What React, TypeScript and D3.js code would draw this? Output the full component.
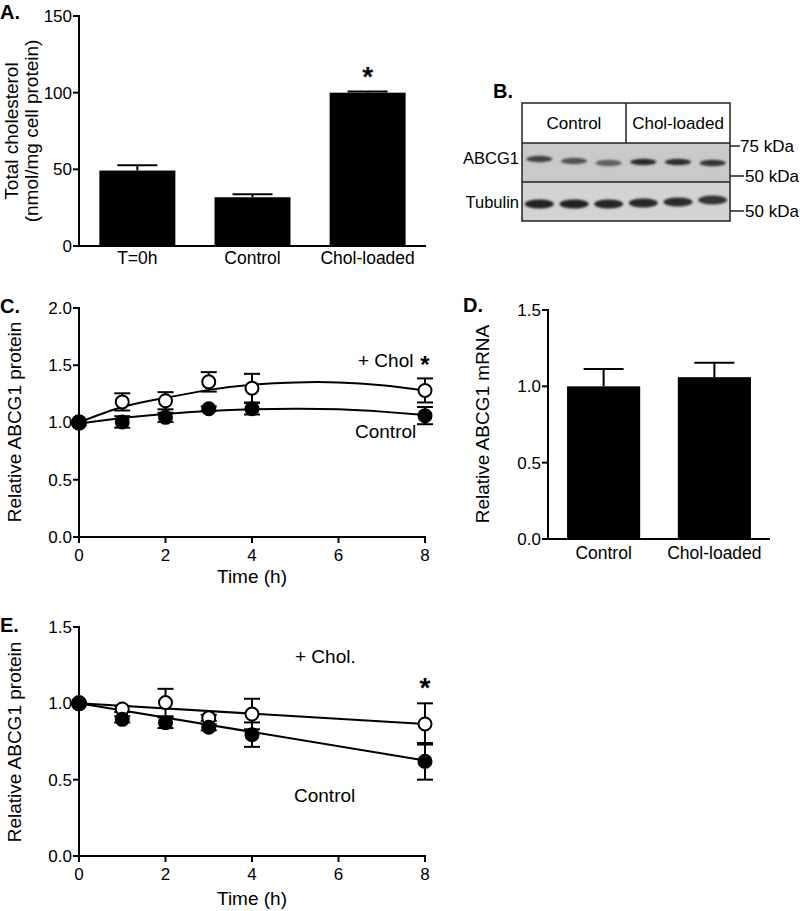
import React from "react";
import * as d3 from "d3";

const W = 800;
const H = 911;
const FONT = "'Liberation Sans', Arial, Helvetica, sans-serif";

// ---------- Panel A: total cholesterol ----------
const catsA = ["T=0h", "Control", "Chol-loaded"];
const valsA = [49.2, 31.8, 100];
const errA = [3.4, 2.0, 0.7];
const ticksA = [0, 50, 100, 150];

// ---------- Panel B: western blot ----------
const groupsB = ["Control", "Chol-loaded"];
const lanesB = ["C1", "C2", "C3", "L1", "L2", "L3"];
const abcg1Intensity = [0.78, 0.68, 0.6, 0.92, 0.9, 0.86];
const tubulinIntensity = [0.97, 0.97, 0.96, 0.94, 0.92, 0.86];
const rowsB = ["ABCG1", "Tubulin"];
const markersB = ["75 kDa", "50 kDa", "50 kDa"];

// ---------- Panel C: ABCG1 protein time course ----------
const timesC = [0, 1, 2, 3, 4, 8];
const cholC = [1.0, 1.18, 1.19, 1.355, 1.3, 1.28];
const cholErrC = [0, 0.075, 0.075, 0.085, 0.125, 0.105];
const ctrlC = [1.0, 1.005, 1.045, 1.12, 1.12, 1.06];
const ctrlErrC = [0, 0.05, 0.04, 0.02, 0.05, 0.075];
const fitTimesC = [0, 1, 2, 3, 4, 5, 6, 7, 8];
const cholFitC = [1.0, 1.135, 1.215, 1.285, 1.33, 1.35, 1.35, 1.325, 1.28];
const ctrlFitC = [0.99, 1.04, 1.075, 1.1, 1.115, 1.12, 1.115, 1.095, 1.065];
const ticksC = [0, 0.5, 1.0, 1.5, 2.0];
const xTicksTime = [0, 2, 4, 6, 8];

// ---------- Panel D: ABCG1 mRNA ----------
const catsD = ["Control", "Chol-loaded"];
const valsD = [1.0, 1.06];
const errD = [0.113, 0.095];
const ticksD = [0, 0.5, 1.0, 1.5];

// ---------- Panel E: ABCG1 protein decay ----------
const timesE = [0, 1, 2, 3, 4, 8];
const cholE = [1.0, 0.963, 1.005, 0.905, 0.93, 0.865];
const cholErrE = [0, 0.02, 0.09, 0.02, 0.1, 0.135];
const ctrlE = [1.0, 0.895, 0.873, 0.843, 0.795, 0.62];
const ctrlErrE = [0, 0.02, 0.035, 0.02, 0.08, 0.12];
const fitTimesE = [0, 8];
const cholFitE = [1.0, 0.865];
const ctrlFitE = [1.0, 0.625];
const ticksE = [0, 0.5, 1.0, 1.5];

const fmt1 = d3.format(".1f");
const TICK_FS = 17;
const TITLE_FS = 19;

function YAxis({ scale, x, ticks, format }: any) {
  const [y0, y1] = scale.range();
  return (
    <g>
      <line x1={x} x2={x} y1={y0} y2={y1} stroke="#000" strokeWidth={2} strokeLinecap="square" />
      {ticks.map((t: number) => (
        <g key={t}>
          <line x1={x - 6} x2={x} y1={scale(t)} y2={scale(t)} stroke="#000" strokeWidth={2} />
          <text x={x - 7} y={scale(t)} dy="0.35em" textAnchor="end" fontSize={TICK_FS} fontFamily={FONT}>
            {format ? format(t) : t}
          </text>
        </g>
      ))}
    </g>
  );
}

function TimeAxis({ scale, y }: any) {
  const [x0, x1] = scale.range();
  return (
    <g>
      <line x1={x0} x2={x1} y1={y} y2={y} stroke="#000" strokeWidth={2} strokeLinecap="square" />
      {xTicksTime.map((t) => (
        <g key={t}>
          <line x1={scale(t)} x2={scale(t)} y1={y} y2={y + 6} stroke="#000" strokeWidth={2} />
          <text x={scale(t)} y={y + 24} textAnchor="middle" fontSize={TICK_FS} fontFamily={FONT}>
            {t}
          </text>
        </g>
      ))}
    </g>
  );
}

function BarPanel({ cats, vals, errs, x, y, ticks, format, catY }: any) {
  const base = y(0);
  const bw = x.bandwidth();
  return (
    <g>
      {cats.map((c: string, i: number) => {
        const cx = (x(c) as number) + bw / 2;
        return (
          <g key={c}>
            <line x1={cx} x2={cx} y1={y(vals[i])} y2={y(vals[i] + errs[i])} stroke="#000" strokeWidth={2} />
            <line x1={cx - 20} x2={cx + 20} y1={y(vals[i] + errs[i])} y2={y(vals[i] + errs[i])} stroke="#000" strokeWidth={2} />
            <rect x={x(c)} y={y(vals[i])} width={bw} height={base - y(vals[i])} fill="#000" />
            <text x={cx} y={catY} textAnchor="middle" fontSize={17.5} fontFamily={FONT}>
              {c}
            </text>
          </g>
        );
      })}
      <YAxis scale={y} x={x.range()[0]} ticks={ticks} format={format} />
      <line x1={x.range()[0]} x2={x.range()[1]} y1={base} y2={base} stroke="#000" strokeWidth={2} />
    </g>
  );
}

function Series({ times, vals, errs, x, y }: any) {
  return (
    <g>
      {times.map((t: number, i: number) =>
        errs[i] > 0 ? (
          <g key={"e" + t}>
            <line x1={x(t)} x2={x(t)} y1={y(vals[i] - errs[i])} y2={y(vals[i] + errs[i])} stroke="#000" strokeWidth={2} />
            <line x1={x(t) - 8} x2={x(t) + 8} y1={y(vals[i] + errs[i])} y2={y(vals[i] + errs[i])} stroke="#000" strokeWidth={2} />
            <line x1={x(t) - 8} x2={x(t) + 8} y1={y(vals[i] - errs[i])} y2={y(vals[i] - errs[i])} stroke="#000" strokeWidth={2} />
          </g>
        ) : null
      )}
    </g>
  );
}

function Markers({ times, vals, x, y, filled }: any) {
  return (
    <g>
      {times.map((t: number, i: number) => (
        <circle
          key={t}
          cx={x(t)}
          cy={y(vals[i])}
          r={i === 0 ? 7 : 6.5}
          fill={filled ? "#000" : "#fff"}
          stroke="#000"
          strokeWidth={2}
        />
      ))}
    </g>
  );
}

export default function App() {
  // Panel A
  const xA = d3.scaleBand<string>().domain(catsA).range([79, 426]).paddingInner(0.34).paddingOuter(0.177);
  const yA = d3.scaleLinear().domain([0, 150]).range([246, 16]);

  // Panel B
  const blotL = 522, blotR = 730;
  const headT = 103, headB = 143, midY = 182, blotB = 221;
  const laneX = d3.scaleBand<string>().domain(lanesB).range([blotL, blotR]);
  const grpX = d3.scaleBand<string>().domain(groupsB).range([blotL, blotR]);
  const abcgDrift = [-2, 0, 2, 1, 1, 2];
  const tubDrift = [1, 1, 1, 0, -1, -3];
  const shade = (v: number) => d3.interpolateRgb("#c4c4c4", "#1e1e1e")(v);

  // Panel C
  const xC = d3.scaleLinear().domain([0, 8]).range([79, 425]);
  const yC = d3.scaleLinear().domain([0, 2]).range([537, 308]);
  const lineC = d3
    .line<number>()
    .x((_, i) => xC(fitTimesC[i]))
    .y((d) => yC(d))
    .curve(d3.curveNatural);

  // Panel D
  const xD = d3.scaleBand<string>().domain(catsD).range([548, 770]).paddingInner(0.34).paddingOuter(0.172);
  const yD = d3.scaleLinear().domain([0, 1.5]).range([539, 310]);

  // Panel E
  const xE = d3.scaleLinear().domain([0, 8]).range([79, 425]);
  const yE = d3.scaleLinear().domain([0, 1.5]).range([856, 627]);
  const lineE = d3
    .line<number>()
    .x((_, i) => xE(fitTimesE[i]))
    .y((d) => yE(d));

  const label = (t: string, x: number, y: number) => (
    <text x={x} y={y} fontSize={20} fontWeight="bold" fontFamily={FONT}>
      {t}
    </text>
  );

  return (
    <svg width={W} height={H} style={{ position: "absolute", left: 0, top: 0, background: "#fff" }} fontFamily={FONT}>
      <defs>
        <filter id="blur" x="-50%" y="-100%" width="200%" height="300%">
          <feGaussianBlur stdDeviation="1.3" />
        </filter>
      </defs>
      <rect width={W} height={H} fill="#fff" />

      {/* ---------- A ---------- */}
      {label("A.", 0, 19)}
      <BarPanel cats={catsA} vals={valsA} errs={errA} x={xA} y={yA} ticks={ticksA} catY={264} />
      <text x={xA("Chol-loaded")! + xA.bandwidth() / 2} y={86} textAnchor="middle" fontSize={28} fontWeight="bold">
        *
      </text>
      <text transform="translate(11,131) rotate(-90)" textAnchor="middle" dy="0.35em" fontSize={TITLE_FS}>
        Total cholesterol
      </text>
      <text transform="translate(31,131) rotate(-90)" textAnchor="middle" dy="0.35em" fontSize={TITLE_FS}>
        (nmol/mg cell protein)
      </text>

      {/* ---------- B ---------- */}
      {label("B.", 493, 98)}
      <rect x={blotL} y={midY} width={blotR - blotL} height={blotB - midY} fill="#d3d3d3" />
      <rect x={blotL} y={headB} width={blotR - blotL} height={midY - headB} fill="#c9c9c9" />
      <g filter="url(#blur)">
        {lanesB.map((l, i) => (
          <ellipse
            key={"a" + l}
            cx={laneX(l)! + laneX.bandwidth() / 2}
            cy={161 + abcgDrift[i]}
            rx={13}
            ry={3.2}
            fill={shade(abcg1Intensity[i])}
          />
        ))}
        {lanesB.map((l, i) => (
          <ellipse
            key={"t" + l}
            cx={laneX(l)! + laneX.bandwidth() / 2}
            cy={203 + tubDrift[i]}
            rx={14.5}
            ry={4.6}
            fill={shade(tubulinIntensity[i])}
          />
        ))}
      </g>
      <rect x={blotL} y={headT} width={blotR - blotL} height={blotB - headT} fill="none" stroke="#222" strokeWidth={1.5} />
      <line x1={blotL} x2={blotR} y1={headB} y2={headB} stroke="#222" strokeWidth={1.5} />
      <line x1={blotL} x2={blotR} y1={midY} y2={midY} stroke="#222" strokeWidth={1.5} />
      <line x1={grpX("Chol-loaded")} x2={grpX("Chol-loaded")} y1={headT} y2={headB} stroke="#222" strokeWidth={1.5} />
      {groupsB.map((g) => (
        <text key={g} x={grpX(g)! + grpX.bandwidth() / 2} y={129} textAnchor="middle" fontSize={17}>
          {g}
        </text>
      ))}
      <text x={519} y={164} textAnchor="end" fontSize={16.5}>
        {rowsB[0]}
      </text>
      <text x={519} y={208} textAnchor="end" fontSize={16.5}>
        {rowsB[1]}
      </text>
      {[146, 176, 211].map((yy, i) => (
        <g key={i}>
          <line x1={blotR} x2={blotR + (i === 0 ? 10 : 14)} y1={yy} y2={yy} stroke="#222" strokeWidth={1.5} />
          <text x={blotR + (i === 0 ? 10 : 15)} y={yy + 6} fontSize={17}>
            {markersB[i]}
          </text>
        </g>
      ))}

      {/* ---------- C ---------- */}
      {label("C.", 0, 313)}
      <YAxis scale={yC} x={79} ticks={ticksC} format={fmt1} />
      <TimeAxis scale={xC} y={537} />
      <text transform="translate(14,422) rotate(-90)" textAnchor="middle" dy="0.35em" fontSize={TITLE_FS}>
        Relative ABCG1 protein
      </text>
      <text x={252} y={583} textAnchor="middle" fontSize={TITLE_FS}>
        Time (h)
      </text>
      <Series times={timesC} vals={cholC} errs={cholErrC} x={xC} y={yC} />
      <Series times={timesC} vals={ctrlC} errs={ctrlErrC} x={xC} y={yC} />
      <path d={lineC(cholFitC) || ""} fill="none" stroke="#000" strokeWidth={2} />
      <path d={lineC(ctrlFitC) || ""} fill="none" stroke="#000" strokeWidth={2} />
      <Markers times={timesC} vals={cholC} x={xC} y={yC} filled={false} />
      <Markers times={timesC} vals={ctrlC} x={xC} y={yC} filled={true} />
      <text x={358} y={367} fontSize={TITLE_FS}>
        + Chol
      </text>
      <text x={xC(8)} y={373} textAnchor="middle" fontSize={24} fontWeight="bold">
        *
      </text>
      <text x={355} y={438} fontSize={TITLE_FS}>
        Control
      </text>

      {/* ---------- D ---------- */}
      {label("D.", 463, 312)}
      <BarPanel cats={catsD} vals={valsD} errs={errD} x={xD} y={yD} ticks={ticksD} format={fmt1} catY={559} />
      <text transform="translate(482,424) rotate(-90)" textAnchor="middle" dy="0.35em" fontSize={TITLE_FS}>
        Relative ABCG1 mRNA
      </text>

      {/* ---------- E ---------- */}
      {label("E.", 0, 632)}
      <YAxis scale={yE} x={79} ticks={ticksE} format={fmt1} />
      <TimeAxis scale={xE} y={856} />
      <text transform="translate(14,742) rotate(-90)" textAnchor="middle" dy="0.35em" fontSize={TITLE_FS}>
        Relative ABCG1 protein
      </text>
      <text x={252} y={905} textAnchor="middle" fontSize={TITLE_FS}>
        Time (h)
      </text>
      <Series times={timesE} vals={cholE} errs={cholErrE} x={xE} y={yE} />
      <Series times={timesE} vals={ctrlE} errs={ctrlErrE} x={xE} y={yE} />
      <path d={lineE(cholFitE) || ""} fill="none" stroke="#000" strokeWidth={2} />
      <path d={lineE(ctrlFitE) || ""} fill="none" stroke="#000" strokeWidth={2} />
      <Markers times={timesE} vals={cholE} x={xE} y={yE} filled={false} />
      <Markers times={timesE} vals={ctrlE} x={xE} y={yE} filled={true} />
      <text x={295} y={663} fontSize={TITLE_FS}>
        + Chol.
      </text>
      <text x={xE(8)} y={697} textAnchor="middle" fontSize={28} fontWeight="bold">
        *
      </text>
      <text x={294} y={802} fontSize={TITLE_FS}>
        Control
      </text>
    </svg>
  );
}
